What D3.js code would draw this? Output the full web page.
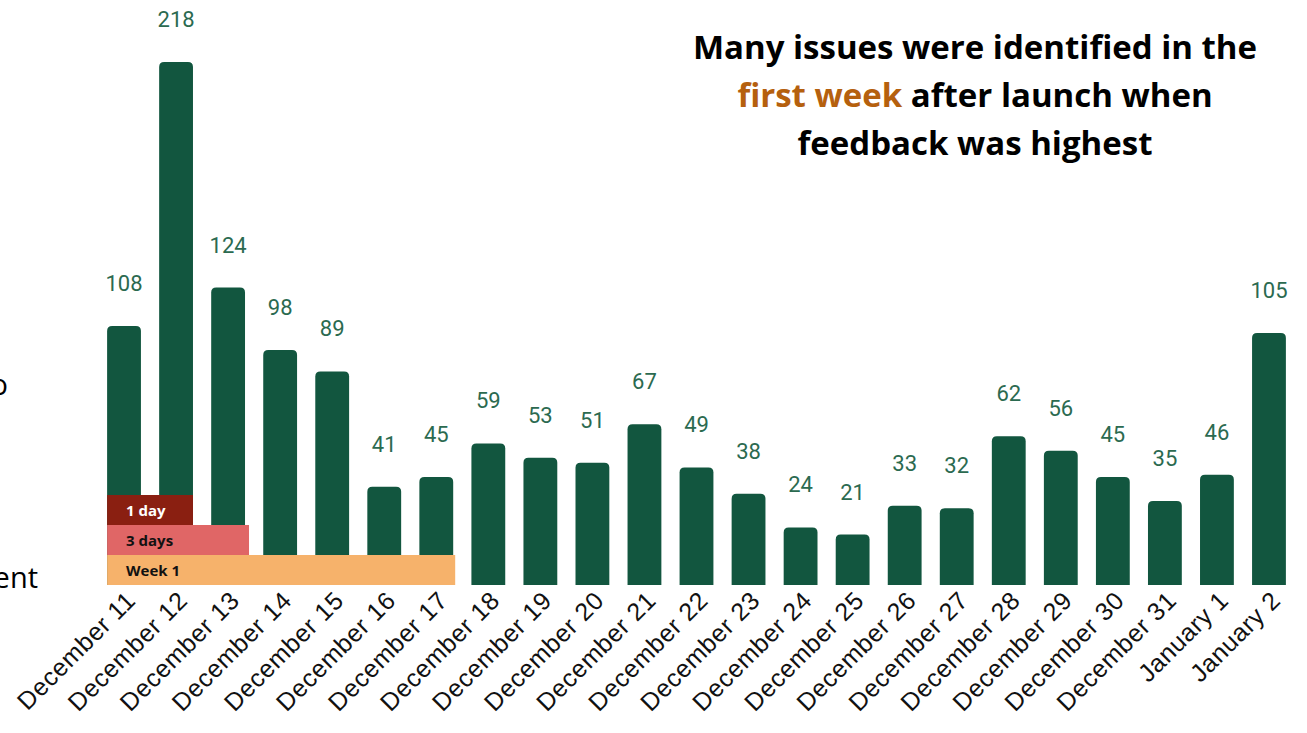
<!DOCTYPE html>
<html>
<head>
<meta charset="utf-8">
<script src="https://cdn.jsdelivr.net/npm/d3@7"></script>
<style>
    body { margin: 0; background: #fff; }
</style>
</head>
<body>
<div id="chart"></div>
<script>
var days = ["December 11", "December 12", "December 13", "December 14", "December 15", "December 16",
    "December 17", "December 18", "December 19", "December 20", "December 21", "December 22",
    "December 23", "December 24", "December 25", "December 26", "December 27", "December 28",
    "December 29", "December 30", "December 31", "January 1", "January 2"];
var issues = [108, 218, 124, 98, 89, 41, 45, 59, 53, 51, 67, 49, 38, 24, 21, 33, 32, 62, 56, 45, 35, 46, 105];

// highlighted periods after launch (last day each band reaches)
var periodLabels = ["Week 1", "3 days", "1 day"];
var periodEnd = ["December 17", "December 13", "December 12"];

var titleLines = ["Many issues were identified in the", "after launch when", "feedback was highest"];
var titleHighlight = "first week";

function init() {
    var w = 1307;
    var h = 733;
    var base = 585;

    var svg = d3.select("#chart")
        .append("svg")
        .attr("width", w)
        .attr("height", h);

    var x = d3.scaleBand()
        .domain(days)
        .range([98, 1295])
        .paddingInner(0.35)
        .paddingOuter(0.175);

    var y = d3.scaleLinear()
        .domain([0, 218])
        .range([base, 62]);

    var r = 5;
    svg.selectAll("path.bar")
        .data(issues)
        .enter()
        .append("path")
        .attr("class", "bar")
        .attr("d", function (d, i) {
            var x0 = x(days[i]), x1 = x0 + x.bandwidth(), top = y(d);
            return "M" + x0 + "," + base +
                "V" + (top + r) +
                "Q" + x0 + "," + top + " " + (x0 + r) + "," + top +
                "H" + (x1 - r) +
                "Q" + x1 + "," + top + " " + x1 + "," + (top + r) +
                "V" + base + "Z";
        })
        .attr("fill", "#12563f");

    svg.selectAll("text.value")
        .data(issues)
        .enter()
        .append("text")
        .attr("class", "value")
        .text(function (d) { return d; })
        .attr("x", function (d, i) { return x(days[i]) + x.bandwidth() / 2; })
        .attr("y", function (d) { return y(d) - 35; })
        .attr("fill", "#2b6a50")
        .attr("font-family", "Roboto, sans-serif")
        .attr("font-size", "22px")
        .attr("text-anchor", "middle");

    // x axis labels, rotated
    svg.selectAll("text.day")
        .data(days)
        .enter()
        .append("text")
        .attr("class", "day")
        .text(function (d) { return d; })
        .attr("transform", function (d) {
            return "translate(" + (x(d) + x.bandwidth() / 2 + 13) + "," + 602 + ") rotate(-45)";
        })
        .attr("fill", "#111")
        .attr("font-family", "'Liberation Sans', Arial, sans-serif")
        .attr("font-size", "25px")
        .attr("letter-spacing", "0.6px")
        .attr("text-anchor", "end");

    // period bands over the bottom of the first bars
    var periodColors = ["#f6b26b", "#e06666", "#8a1f11"];
    var periodText = ["#111", "#111", "#fff"];
    var periodExtra = [2, 4, 0];
    var bandH = 30;
    periodLabels.forEach(function (label, k) {
        var x0 = x(days[0]);
        var x1 = x(periodEnd[k]) + x.bandwidth() + periodExtra[k];
        var top = base - bandH * (k + 1);
        svg.append("rect")
            .attr("x", x0)
            .attr("y", top)
            .attr("width", x1 - x0)
            .attr("height", bandH)
            .attr("fill", periodColors[k]);
        svg.append("text")
            .text(label)
            .attr("x", x0 + 19)
            .attr("y", top + 21)
            .attr("fill", periodText[k])
            .attr("font-family", "'Open Sans', sans-serif")
            .attr("font-weight", "bold")
            .attr("font-size", "15px");
    });

    // title
    var title = svg.append("g")
        .attr("font-family", "'Open Sans', sans-serif")
        .attr("font-weight", "bold")
        .attr("font-size", "33px")
        .attr("text-anchor", "middle");
    title.append("text").attr("x", 975).attr("y", 59).text(titleLines[0]);
    var mid = title.append("text").attr("x", 975).attr("y", 107);
    mid.append("tspan").attr("fill", "#b5600e").text(titleHighlight);
    mid.append("tspan").text(" " + titleLines[1]);
    title.append("text").attr("x", 975).attr("y", 155).text(titleLines[2]);

    // slide text cut off at the left edge
    svg.append("text").text("o").attr("x", 8).attr("y", 395)
        .attr("text-anchor", "end").attr("font-family", "'Open Sans', sans-serif").attr("font-size", "29px");
    svg.append("text").text("ent").attr("x", 38).attr("y", 588)
        .attr("text-anchor", "end").attr("font-family", "'Open Sans', sans-serif").attr("font-size", "29px");
}

window.onload = init;
</script>
</body>
</html>
